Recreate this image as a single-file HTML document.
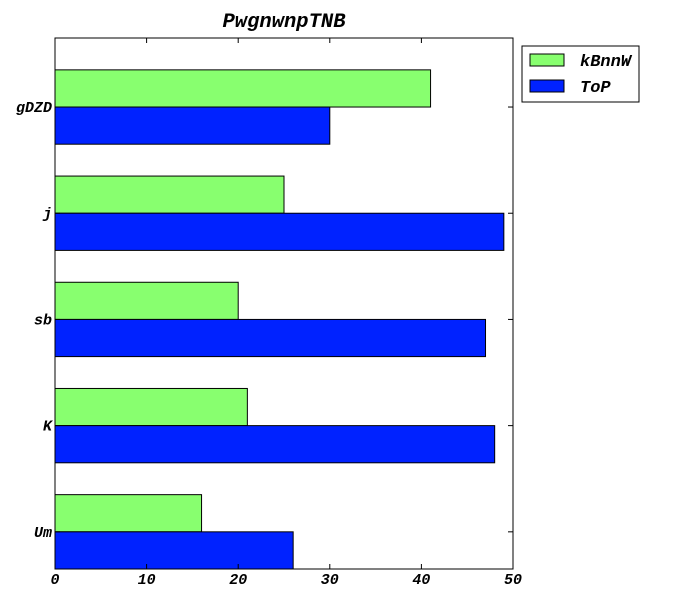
<!DOCTYPE html>
<html><head><meta charset="utf-8"><style>
body{margin:0;background:#fff}
text{font-family:"Liberation Mono","DejaVu Sans Mono",monospace;font-style:italic;font-weight:bold}
</style></head><body>
<svg id="chart" width="675" height="600" xmlns="http://www.w3.org/2000/svg">
<rect width="675" height="600" fill="#fff"/>
<text x="284" y="27" font-size="20.5" text-anchor="middle">PwgnwnpTNB</text>
<g id="bars"></g>
<g id="axes"></g>
<g>
<rect x="522" y="46" width="117" height="56" fill="#fff" stroke="#000" stroke-width="1"/>
<rect x="530" y="54" width="34" height="12" fill="#88ff6f" stroke="#000"/>
<text x="580" y="66" font-size="17">kBnnW</text>
<rect x="530" y="80" width="34" height="12" fill="#0022ff" stroke="#000"/>
<text x="580" y="92" font-size="17">ToP</text>
</g>
</svg>
<script>
const categories=["Um","K","sb","j","gDZD"];
const seriesGreen=[16,21,20,25,41];
const seriesBlue=[26,48,47,49,30];
const xTicks=[0,10,20,30,40,50];
const L=55,R=513,T=38,B=569;
const xs=v=>L+(v/50)*(R-L);
const ys=v=>B-(v+0.35)/5*(B-T);
const NS="http://www.w3.org/2000/svg";
const bars=document.getElementById('bars'),axes=document.getElementById('axes');
function mk(tag,attrs,parent){const e=document.createElementNS(NS,tag);for(const k in attrs)e.setAttribute(k,attrs[k]);parent.appendChild(e);return e;}
categories.forEach((c,i)=>{
  const g=mk('rect',{x:xs(0),y:ys(i+0.35),width:xs(seriesGreen[i])-xs(0),height:ys(i)-ys(i+0.35),fill:'#88ff6f',stroke:'#000'},bars);
  
  
  const b=mk('rect',{x:xs(0),y:ys(i),width:xs(seriesBlue[i])-xs(0),height:ys(i-0.35)-ys(i),fill:'#0022ff',stroke:'#000'},bars);
  
  
  const y=ys(i);
  mk('line',{x1:L,x2:L+5,y1:y,y2:y,stroke:'#000'},axes);
  mk('line',{x1:R,x2:R-5,y1:y,y2:y,stroke:'#000'},axes);
  const t=mk('text',{x:L-3,y:y+5,'font-size':15,'text-anchor':'end'},axes);
  t.textContent=c;
  
  
});
xTicks.forEach(v=>{
  const x=xs(v);
  mk('line',{x1:x,x2:x,y1:B,y2:B-5,stroke:'#000'},axes);
  mk('line',{x1:x,x2:x,y1:T,y2:T+5,stroke:'#000'},axes);
  const t=mk('text',{x:x,y:B+15,'font-size':15,'text-anchor':'middle'},axes);
  t.textContent=v;
  
  
});
const f=mk('rect',{x:L,y:T,width:R-L,height:B-T,fill:'none',stroke:'#000'},axes);


</script>
</body></html>
